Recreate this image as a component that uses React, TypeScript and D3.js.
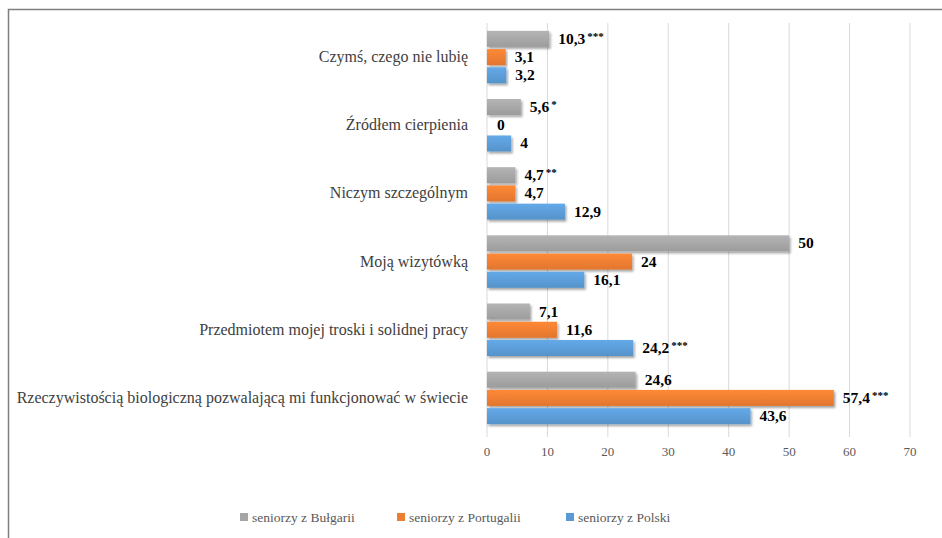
import { useEffect, useRef } from 'react';
import * as d3 from 'd3';

const categories = [
  'Czymś, czego nie lubię',
  'Źródłem cierpienia',
  'Niczym szczególnym',
  'Moją wizytówką',
  'Przedmiotem mojej troski i solidnej pracy',
  'Rzeczywistością biologiczną pozwalającą mi funkcjonować w świecie',
];
const seriesNames = ['seniorzy z Bułgarii', 'seniorzy z Portugalii', 'seniorzy z Polski'];
const bulgaria = [10.3, 5.6, 4.7, 50, 7.1, 24.6];
const portugal = [3.1, 0, 4.7, 24, 11.6, 57.4];
const poland = [3.2, 4, 12.9, 16.1, 24.2, 43.6];
const bulgariaMarks = ['***', '*', '**', '', '', ''];
const portugalMarks = ['', '', '', '', '', '***'];
const polandMarks = ['', '', '', '', '***', ''];
const xTicks = [0, 10, 20, 30, 40, 50, 60, 70];
const colors = ['#a5a5a5', '#ed7d31', '#5b9bd5'];

const App = () => {
  const svgRef = useRef(null);

  useEffect(() => {
    drawChart();
  }, []);

  const drawChart = () => {
    const width = 942;
    const height = 538;
    const svg = d3.select(svgRef.current).attr('width', width).attr('height', height);
    svg.selectAll('*').remove();

    const font = 'Liberation Serif, Times New Roman, DejaVu Serif, serif';
    const values = [bulgaria, portugal, poland];
    const marks = [bulgariaMarks, portugalMarks, polandMarks];

    const x = d3.scaleLinear().domain([0, 70]).range([487, 910]);
    const y0 = d3.scaleBand().domain(categories).range([23, 432]);
    const bw = y0.bandwidth();
    const y1 = d3.scaleBand().domain(seriesNames).range([(bw - 52.5) / 2, (bw + 52.5) / 2]).paddingInner(0.12);

    const defs = svg.append('defs');
    const shadow = defs.append('filter').attr('id', 'shadow').attr('x', '-5%').attr('y', '-20%').attr('width', '115%').attr('height', '160%');
    shadow.append('feDropShadow').attr('dx', 1.5).attr('dy', 2).attr('stdDeviation', 1.2).attr('flood-color', '#000').attr('flood-opacity', 0.35);
    colors.forEach((c, i) => {
      const g = defs.append('linearGradient').attr('id', `grad${i}`).attr('x1', 0).attr('y1', 0).attr('x2', 0).attr('y2', 1);
      g.append('stop').attr('offset', '0%').attr('stop-color', d3.color(c).brighter(0.25).toString());
      g.append('stop').attr('offset', '100%').attr('stop-color', d3.color(c).darker(0.15).toString());
    });

    // frame
    svg.append('path').attr('d', `M8.5,${height} V9.5 H${width}`).attr('fill', 'none').attr('stroke', '#7f7f7f').attr('stroke-width', 1.5);

    // gridlines
    svg.append('g')
      .selectAll('line')
      .data(xTicks)
      .join('line')
      .attr('x1', d => x(d)).attr('x2', d => x(d))
      .attr('y1', 23).attr('y2', 437)
      .attr('stroke', '#d9d9d9').attr('stroke-width', 1);

    // tick labels
    svg.append('g')
      .selectAll('text')
      .data(xTicks)
      .join('text')
      .attr('x', d => x(d)).attr('y', 456)
      .attr('text-anchor', 'middle')
      .style('font-family', font).style('font-size', '13px').attr('fill', '#595959')
      .text(d => d);

    // category labels
    svg.append('g')
      .selectAll('text')
      .data(categories)
      .join('text')
      .attr('x', 468).attr('y', d => y0(d) + bw / 2 + 5)
      .attr('text-anchor', 'end')
      .style('font-family', font).style('font-size', '16px').attr('fill', '#404040')
      .text(d => d);

    seriesNames.forEach((s, si) => {
      const g = svg.append('g');
      g.selectAll('rect')
        .data(categories)
        .join('rect')
        .attr('x', x(0))
        .attr('y', d => y0(d) + y1(s))
        .attr('width', (d, i) => x(values[si][i]) - x(0))
        .attr('height', y1.bandwidth())
        .attr('fill', `url(#grad${si})`)
        .attr('filter', 'url(#shadow)');

      const labels = g.selectAll('text')
        .data(categories)
        .join('text')
        .attr('x', (d, i) => x(values[si][i]) + (values[si][i] === 0 ? 10 : 9))
        .attr('y', d => y0(d) + y1(s) + y1.bandwidth() / 2 + 5)
        .style('font-family', font).style('font-size', '15.5px').style('font-weight', 'bold').attr('fill', '#000');
      labels.append('tspan').text((d, i) => String(values[si][i]).replace('.', ','));
      labels.append('tspan')
        .attr('dx', 2).attr('dy', -4)
        .style('font-size', '11px')
        .text((d, i) => marks[si][i]);
    });

    // legend
    const legendX = [240, 397, 566];
    const legend = svg.append('g')
      .selectAll('g')
      .data(seriesNames)
      .join('g')
      .attr('transform', (d, i) => `translate(${legendX[i]},522)`);
    legend.append('rect').attr('x', 0).attr('y', -9).attr('width', 8).attr('height', 8).attr('fill', (d, i) => colors[i]);
    legend.append('text')
      .attr('x', 12).attr('y', 0)
      .style('font-family', font).style('font-size', '13.5px').attr('fill', '#595959')
      .text(d => d);
  };

  return (
    <div style={{ position: 'absolute', left: 0, top: 0 }}>
      <svg ref={svgRef} width={942} height={538} style={{ display: 'block', background: '#fff' }} />
    </div>
  );
};

export default App;
